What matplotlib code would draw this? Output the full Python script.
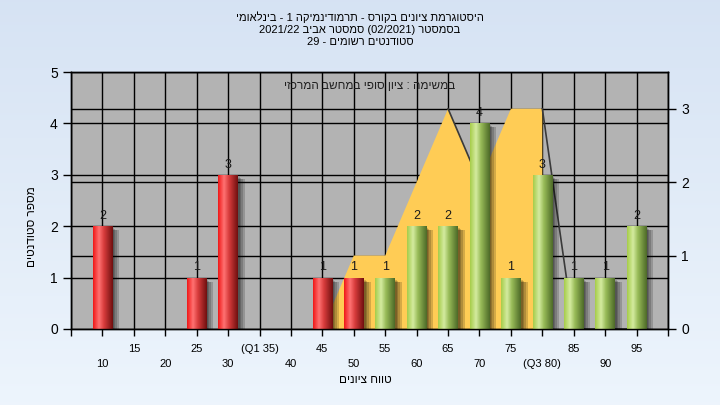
import re
import numpy as np
import matplotlib
matplotlib.use('Agg')
import matplotlib.pyplot as plt
import matplotlib.transforms as mtransforms
from matplotlib.colors import LinearSegmentedColormap

plt.rcParams['font.family'] = ['Liberation Sans', 'DejaVu Sans']

# data
scores = [10, 15, 20, 25, 30, 35, 40, 45, 50, 55, 60, 65, 70, 75, 80, 85, 90, 95]
counts = [2, 0, 0, 1, 3, 0, 0, 1, 1, 1, 2, 2, 4, 1, 3, 1, 1, 2]
pass_mark = 55

# yellow area (right axis)
area_x = [45, 50, 55, 60, 65, 70, 75, 80]
area_y = [0, 1, 1, 2, 3, 2, 3, 3]
tail_x = [80, 85, 90, 95]
tail_y = [3, 0, 0, 0]

tick_names = {35: '(Q1 35)', 80: '(Q3 80)'}

title_1 = 'היסטוגרמת ציונים בקורס - תרמודינמיקה 1 - בינלאומי'
title_2 = 'בסמסטר (02/2021) סמסטר אביב 2021/22'
title_3 = 'סטודנטים רשומים - 29'
inner_text = 'במשימה : ציון סופי במחשב המרכזי'
x_title = 'טווח ציונים'
y_title = 'מספר סטודנטים'


def rtl(s):
    # matplotlib has no bidi: reverse, keep number runs, mirror brackets
    out = s[::-1]
    out = re.sub(r'[0-9][0-9/.]*[0-9]|[0-9]', lambda m: m.group(0)[::-1], out)
    return out.translate(str.maketrans('()', ')('))


def ramp(stops, n=64):
    cm = LinearSegmentedColormap.from_list('c', stops)
    return cm(np.linspace(0, 1, n))[None, :, :3]


fig = plt.figure(figsize=(7.2, 4.05), dpi=100)

# light blue gradient background
bg = fig.add_axes([0, 0, 1, 1], zorder=-10)
grad = np.linspace(0, 1, 256)[:, None]
top_c = np.array([0.84, 0.89, 0.955])
bot_c = np.array([0.93, 0.96, 0.99])
img = top_c[None, None, :] * (1 - grad[:, :, None]) + bot_c[None, None, :] * grad[:, :, None]
bg.imshow(img, aspect='auto', extent=[0, 1, 0, 1])
bg.axis('off')

ax = fig.add_axes([0.0986, 0.1877, 0.8292, 0.6345])
ax.set_facecolor('#b3b3b3')
ax2 = ax.twinx()

ax.set_xlim(5, 100)
ax.set_ylim(0, 5)
ax2.set_ylim(0, 3.5)

# grid
ax.set_axisbelow(True)
ax.set_xticks(np.arange(5, 101, 5))
ax.grid(True, color='black', lw=1)
ax.hlines([1, 2, 3], 5, 100, colors='black', lw=1, transform=ax2.transData, zorder=0.8)

# area on the right axis scale
ax.fill(area_x + [area_x[-1], area_x[0]], area_y + [0, 0], color='#ffcc55',
        lw=0, zorder=1.5, transform=ax2.transData)
ax.plot([65, 70], [3, 2], color='#3a3a3a', lw=1.2, zorder=1.6, transform=ax2.transData)
ax.plot(tail_x, tail_y, color='#3a3a3a', lw=1.2, zorder=1.6, transform=ax2.transData)

# bars: shadow + cylinder gradient
width = 3.1
for dx, dy in [(2, -2), (3, -3), (5, -4), (7, -4)]:
    off = mtransforms.offset_copy(ax.transData, fig=fig, x=dx, y=dy, units='dots')
    ax.bar(scores, counts, width=width, color='black', alpha=0.17, lw=0,
           transform=off, zorder=2)

red_stops = [(0.0, '#f01818'), (0.3, '#ff7272'), (0.55, '#d83c3c'), (1.0, '#701010')]
green_stops = [(0.0, '#a6cc4a'), (0.3, '#d4eba0'), (0.55, '#98bb58'), (1.0, '#4d6a28')]

bars = ax.bar(scores, counts, width=width, color='none', lw=0, zorder=3)
for s, c, b in zip(scores, counts, bars):
    if c == 0:
        continue
    stops = red_stops if s < pass_mark else green_stops
    x0 = b.get_x()
    im = ax.imshow(ramp(stops), extent=[x0, x0 + width, 0, c], aspect='auto',
                   zorder=3, interpolation='bilinear')
    im.set_clip_path(b)
    ax.text(s, c + 0.08, str(c), ha='center', va='bottom', fontsize=9,
            color='#1a1a1a', zorder=5)

ax.set_xlim(5, 100)
ax.set_ylim(0, 5)

# x tick labels in two rows
labels = []
for t in np.arange(5, 101, 5):
    name = tick_names.get(t, str(t))
    if t in (5, 100):
        labels.append('')
    elif t % 10 == 0:
        labels.append('\n' + name)
    else:
        labels.append(name)
ax.set_xticklabels(labels, fontsize=8, linespacing=1.6)
ax.tick_params(axis='x', length=5, width=1, pad=6)
ax.set_yticks(range(0, 6))
ax.tick_params(axis='y', labelsize=10, length=6, width=1)
ax2.set_yticks(range(0, 4))
ax2.tick_params(axis='y', labelsize=10, length=6, width=1)
for a in (ax, ax2):
    for sp in a.spines.values():
        sp.set_color('black')
        sp.set_linewidth(1)

ax.text(0.5, 0.945, rtl(inner_text), transform=ax.transAxes, ha='center', va='center',
        fontsize=8.5, color='#202020', zorder=6)

fig.text(0.5, 0.957, rtl(title_1), ha='center', va='center', fontsize=8)
fig.text(0.5, 0.927, rtl(title_2), ha='center', va='center', fontsize=8)
fig.text(0.5, 0.896, rtl(title_3), ha='center', va='center', fontsize=8)

fig.text(0.507, 0.062, rtl(x_title), ha='center', va='center', fontsize=8.5)
fig.text(0.045, 0.44, rtl(y_title), ha='center', va='center', rotation=90, fontsize=8.5)

fig.savefig('out.png', dpi=100)
